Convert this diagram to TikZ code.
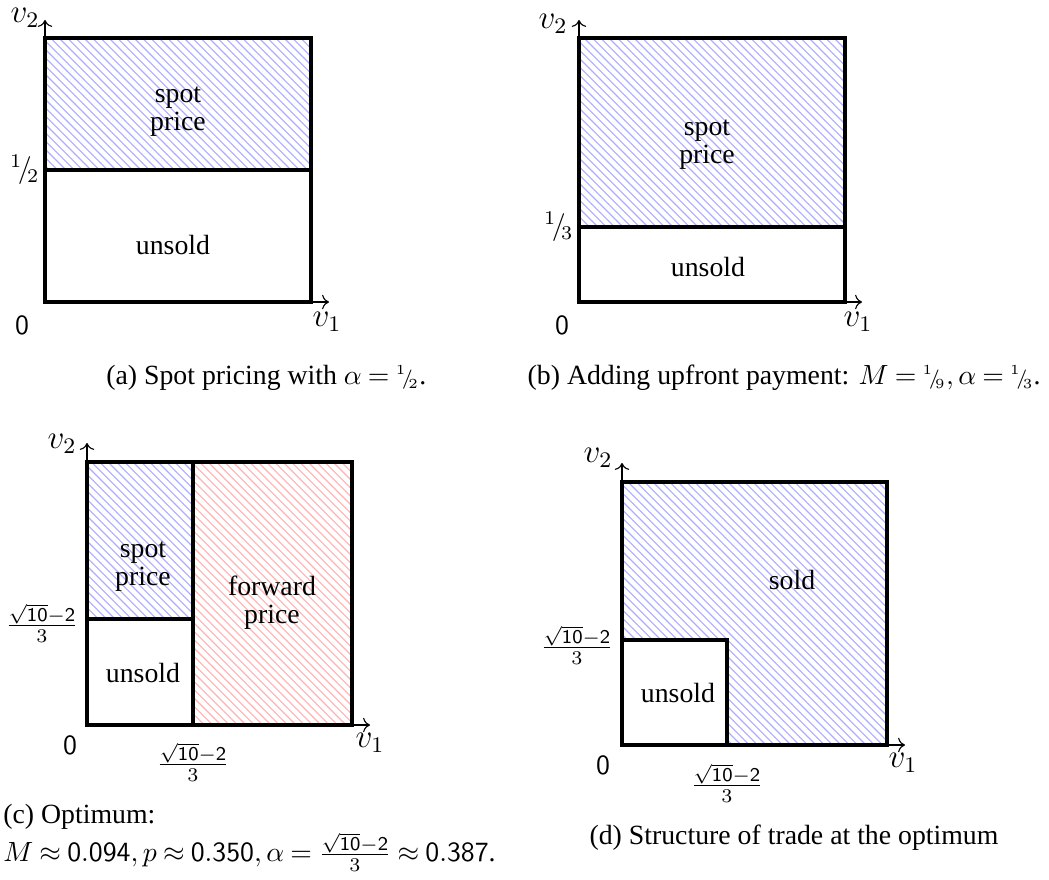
\documentclass[tikz,border=0pt]{standalone}
\usepackage{amsmath,amssymb}
\usepackage{fontspec}
\setmainfont{Liberation Serif}
\usetikzlibrary{arrows.meta,patterns}

\newcommand{\nfr}[2]{{}^{#1}\!/\!{}_{#2}}
\newcommand{\cfr}[2]{{}^{\scriptscriptstyle #1}\mkern-3mu{\scriptstyle/}\mkern-3mu{}_{\scriptscriptstyle #2}}
\newcommand{\rootfr}{\frac{\sqrt{\mathsf{10}}-\mathsf{2}}{3}}

\tikzset{
  box/.style={line width=1.4pt},
  ax/.style={->},
  spot/.style={pattern=north west lines,pattern color=blue!32},
  fwd/.style={pattern=north west lines,pattern color=red!30},
  lab/.style={inner sep=1pt,align=center},
  axlab/.style={inner sep=1pt,font=\large},
  captext/.style={inner sep=1pt,font={\thickmuskip=4mu plus 2mu}}
}

\begin{document}
\begin{tikzpicture}[x=0.36pt,y=-0.36pt]
\useasboundingbox (0,0) rectangle (1049,879);

% (a) spot pricing
\coordinate (oa) at (45,302);
\coordinate (ya) at (45,20);
\coordinate (xa) at (329,302);
\fill[spot] (45,38) rectangle (311,170);
\draw[box] (45,38) rectangle (311,302);
\draw[box] (45,170) -- (311,170);
\draw[ax] (oa) -- (ya);
\draw[ax] (311,302) -- (xa);
\node[axlab] (v2a) at (25,18) {$v_2$};
\node[axlab] (v1a) at (327,322) {$v_1$};
\node[lab] (za) at (22,325) {\textsf{0}};
\node[lab,anchor=east] (ha) at (43,170) {$\nfr{1}{2}$};
\node[lab] (spa) at (178,112) {spot\\[-2pt]price};
\node[lab] (una) at (173,245) {unsold};
\node[captext,anchor=west] (capa) at (103,378) {(a) Spot pricing with $\alpha=\cfr{1}{2}$.};

% (b) upfront payment
\coordinate (ob) at (579,302);
\coordinate (yb) at (579,20);
\coordinate (xb) at (862,302);
\fill[spot] (579,38) rectangle (845,227);
\draw[box] (579,38) rectangle (845,302);
\draw[box] (579,227) -- (845,227);
\draw[ax] (ob) -- (yb);
\draw[ax] (845,302) -- (xb);
\node[axlab] (v2b) at (553,24) {$v_2$};
\node[axlab] (v1b) at (858,322) {$v_1$};
\node[lab] (zb) at (562,325) {\textsf{0}};
\node[lab,anchor=east] (tb) at (577,227) {$\nfr{1}{3}$};
\node[lab] (spb) at (707,145) {spot\\[-2pt]price};
\node[lab] (unb) at (708,267) {unsold};
\node[captext,anchor=east] (capb) at (1044,378) {(b) Adding upfront payment: $M=\cfr{1}{9}, \alpha=\cfr{1}{3}$.};

% (c) optimum
\coordinate (oc) at (87,725);
\coordinate (yc) at (87,443);
\coordinate (xc) at (370,725);
\fill[spot] (87,462) rectangle (193,619);
\fill[fwd] (193,462) rectangle (352,725);
\draw[box] (87,462) rectangle (352,725);
\draw[box] (193,462) -- (193,725);
\draw[box] (87,619) -- (193,619);
\draw[ax] (oc) -- (yc);
\draw[ax] (352,725) -- (xc);
\node[axlab] (v2c) at (62,444) {$v_2$};
\node[axlab] (v1c) at (370,743) {$v_1$};
\node[lab] (zc) at (70,745) {\textsf{0}};
\node[lab] (ac) at (42,623) {$\rootfr$};
\node[lab] (bc) at (193,762) {$\rootfr$};
\node[lab] (spc) at (143,567) {spot\\[-2pt]price};
\node[lab] (fwc) at (272,603) {forward\\[-2pt]price};
\node[lab] (unc) at (143,673) {unsold};
\node[captext,anchor=west,align=left] (capc) at (0,838) {(c) Optimum:\\$M\approx\mathsf{0.094}, p\approx\mathsf{0.350}, \alpha=\rootfr\approx\mathsf{0.387}$.};

% (d) structure of trade
\coordinate (od) at (622,745);
\coordinate (yd) at (622,463);
\coordinate (xd) at (905,745);
\fill[spot] (622,482) rectangle (887,745);
\fill[white] (622,640) rectangle (727,745);
\draw[box] (622,482) rectangle (887,745);
\draw[box] (622,640) -- (727,640) -- (727,745);
\draw[ax] (od) -- (yd);
\draw[ax] (887,745) -- (xd);
\node[axlab] (v2d) at (598,458) {$v_2$};
\node[axlab] (v1d) at (903,763) {$v_1$};
\node[lab] (zd) at (603,765) {\textsf{0}};
\node[lab] (ad) at (577,645) {$\rootfr$};
\node[lab] (bd) at (727,783) {$\rootfr$};
\node[lab] (sod) at (792,580) {sold};
\node[lab] (und) at (678,693) {unsold};
\node[captext] (capd) at (794,838) {(d) Structure of trade at the optimum};
\end{tikzpicture}
\end{document}
